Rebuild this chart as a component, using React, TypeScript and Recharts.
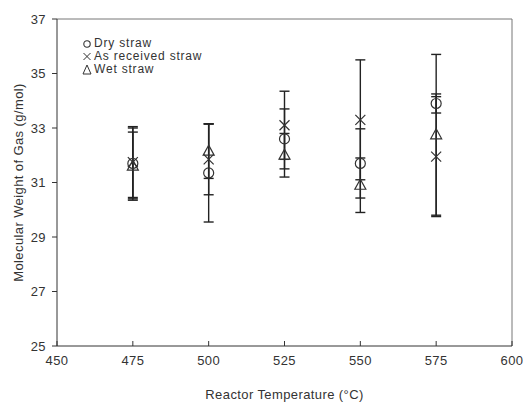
import React from 'react';
import { ScatterChart, Scatter, XAxis, YAxis, ErrorBar, ReferenceLine } from 'recharts';

const temps = [475, 500, 525, 550, 575];
const dry = [31.7, 31.35, 32.6, 31.7, 33.9];
const dryErr = [1.3, 1.8, 1.1, 1.27, 0.35];
const asReceived = [31.75, 31.85, 33.1, 33.3, 31.95];
const asReceivedErr = [1.3, 1.3, 1.25, 2.2, 2.2];
const wet = [31.6, 32.15, 32.0, 30.9, 32.75];
const wetErr = [1.25, 1.0, 0.8, 1.0, 2.95];

const xTicks = [450, 475, 500, 525, 550, 575, 600];
const yTicks = [25, 27, 29, 31, 33, 35, 37];

const build = (vals: number[], errs: number[]) =>
  temps.map((t, i) => ({ t, v: vals[i], err: errs[i] }));

const dryData = build(dry, dryErr);
const asData = build(asReceived, asReceivedErr);
const wetData = build(wet, wetErr);

const FONT = '"Liberation Sans", Arial, sans-serif';
const INK = '#333';
const textStyle = { fill: INK, fontSize: 13, fontFamily: FONT, letterSpacing: 0.4 };

const Circle = (p: any) => (
  <circle cx={p.cx} cy={p.cy} r={5} fill="none" stroke={INK} strokeWidth={1.2} />
);
const Cross = (p: any) => (
  <path
    d={`M${p.cx - 5},${p.cy - 5}L${p.cx + 5},${p.cy + 5}M${p.cx - 5},${p.cy + 5}L${p.cx + 5},${p.cy - 5}`}
    stroke={INK}
    strokeWidth={1.2}
    fill="none"
  />
);
const Tri = (p: any) => (
  <path
    d={`M${p.cx},${p.cy - 6}L${p.cx + 5.5},${p.cy + 4}L${p.cx - 5.5},${p.cy + 4}Z`}
    stroke={INK}
    strokeWidth={1.2}
    fill="none"
  />
);

const legendItems = [
  { name: 'Dry straw', sym: 'o' },
  { name: 'As received straw', sym: 'x' },
  { name: 'Wet straw', sym: 't' },
];

function LegendBox() {
  return (
    <div style={{ position: 'absolute', left: 82, top: 37, fontFamily: FONT, fontSize: 12, letterSpacing: 0.8, color: INK, lineHeight: '13px' }}>
      {legendItems.map((it) => (
        <div key={it.name} style={{ display: 'flex', alignItems: 'center', height: 13 }}>
          <svg width={11} height={13} style={{ marginRight: 1 }}>
            {it.sym === 'o' && <circle cx={5} cy={7} r={3.2} fill="none" stroke={INK} strokeWidth={1.1} />}
            {it.sym === 'x' && <path d="M1.5,3L8.5,10M1.5,10L8.5,3" stroke={INK} strokeWidth={1} />}
            {it.sym === 't' && <path d="M5,2L9,11L1,11Z" fill="none" stroke={INK} strokeWidth={1} />}
          </svg>
          <span>{it.name}</span>
        </div>
      ))}
    </div>
  );
}

export default function App() {
  return (
    <div style={{ position: 'absolute', left: 0, top: 0, width: 523, height: 403, background: '#fff' }}>
      <ScatterChart width={523} height={403} margin={{ top: 19, right: 11, bottom: 10, left: 0 }}>
        <XAxis
          type="number"
          dataKey="t"
          domain={[450, 600]}
          ticks={xTicks}
          interval={0}
          allowDataOverflow
          height={47}
          stroke="#333"
          tickSize={-5}
          tickMargin={15}
          tick={textStyle}
          label={{ value: 'Reactor Temperature (°C)', position: 'insideBottom', offset: -6, ...textStyle }}
        />
        <YAxis
          type="number"
          dataKey="v"
          domain={[25, 37]}
          ticks={yTicks}
          interval={0}
          allowDataOverflow
          width={57}
          stroke="#333"
          tickSize={5}
          tickMargin={6}
          tick={textStyle}
          label={{ value: 'Molecular Weight of Gas (g/mol)', angle: -90, position: 'insideLeft', offset: 18, style: { textAnchor: 'middle' }, ...textStyle }}
        />
        <ReferenceLine y={37} stroke="#777" ifOverflow="visible" />
        <ReferenceLine x={600} stroke="#777" ifOverflow="visible" />
        <Scatter name="Dry straw" data={dryData} shape={Circle} isAnimationActive={false}>
          <ErrorBar dataKey="err" direction="y" width={5} stroke="#222" strokeWidth={1.4} />
        </Scatter>
        <Scatter name="As received straw" data={asData} shape={Cross} isAnimationActive={false}>
          <ErrorBar dataKey="err" direction="y" width={5} stroke="#222" strokeWidth={1.4} />
        </Scatter>
        <Scatter name="Wet straw" data={wetData} shape={Tri} isAnimationActive={false}>
          <ErrorBar dataKey="err" direction="y" width={5} stroke="#222" strokeWidth={1.4} />
        </Scatter>
      </ScatterChart>
      <LegendBox />
    </div>
  );
}
